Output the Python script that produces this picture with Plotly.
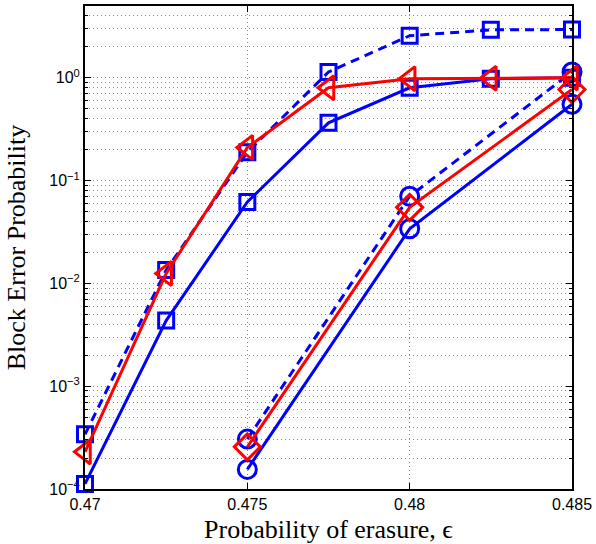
import plotly.graph_objects as go

eps_full = [0.47, 0.4725, 0.475, 0.4775, 0.48, 0.4825, 0.485]
eps_late = [0.475, 0.48, 0.485]

sq_dashed = [3.4e-4, 0.0135, 0.189, 1.14, 2.57, 2.93, 2.95]
sq_solid = [1.12e-4, 4.35e-3, 0.062, 0.365, 0.80, 0.98, 1.0]
tri_red = [2.3e-4, 0.0125, 0.21, 0.80, 0.98, 0.99, 1.0]

circ_dashed = [3.06e-4, 0.0705, 1.14]
circ_solid = [1.55e-4, 0.034, 0.553]
diam_red = [2.57e-4, 0.055, 0.77]

x_ticks = [0.47, 0.475, 0.48, 0.485]
x_ticktext = ["0.47", "0.475", "0.48", "0.485"]
y_ticks = [1e-4, 1e-3, 1e-2, 1e-1, 1]
y_ticktext = ["10<sup>−4</sup>", "10<sup>−3</sup>", "10<sup>−2</sup>", "10<sup>−1</sup>", "10<sup>0</sup>"]

BLUE = "#0000FF"
RED = "#FF0000"

minor_vals = [m * d for d in y_ticks for m in range(2, 10) if m * d <= 5]

fig = go.Figure()

def add(x, y, color, dash, symbol, size):
    fig.add_trace(go.Scatter(
        x=x, y=y, mode="lines+markers",
        line=dict(color=color, width=3, dash=dash),
        marker=dict(symbol=symbol, size=size, color=color,
                    line=dict(color=color, width=3)),
        showlegend=False, cliponaxis=False,
    ))

DASH = "9px,6px"
add(eps_full, sq_dashed, BLUE, DASH, "square-open", 15)
add(eps_full, sq_solid, BLUE, "solid", "square-open", 15)
add(eps_late, circ_dashed, BLUE, DASH, "circle-open", 18)
add(eps_late, circ_solid, BLUE, "solid", "circle-open", 18)
add(eps_full, tri_red, RED, "solid", "triangle-left-open", 21)
add(eps_late, diam_red, RED, "solid", "diamond-open", 20)

GRID = "#8a8a8a"
GDASH = "1px,3px"
TICKFONT = dict(family="Liberation Sans, Arial", size=16, color="black")
TITLEFONT = dict(family="Liberation Serif, serif", size=26, color="black")

fig.update_layout(
    width=596, height=544,
    margin=dict(l=85, r=20, t=4, b=42),
    plot_bgcolor="white", paper_bgcolor="white",
    font=TICKFONT,
)

fig.update_xaxes(
    range=[0.4699999, 0.4850001],
    tickvals=x_ticks, ticktext=x_ticktext, tickfont=TICKFONT,
    ticklabeloverflow="allow",
    ticks="inside", ticklen=6, tickwidth=1, tickcolor="black",
    showline=True, linecolor="black", linewidth=2, mirror="ticks",
    showgrid=True, gridcolor=GRID, griddash=GDASH, gridwidth=1,
    zeroline=False,
    title=dict(text="Probability of erasure, ϵ", font=TITLEFONT, standoff=9),
)

fig.update_yaxes(
    type="log", range=[-4, 0.699],
    tickvals=y_ticks, ticktext=y_ticktext, tickfont=TICKFONT,
    ticklabeloverflow="allow",
    ticks="inside", ticklen=6, tickwidth=1, tickcolor="black",
    showline=True, linecolor="black", linewidth=2, mirror="ticks",
    showgrid=True, gridcolor=GRID, griddash=GDASH, gridwidth=1,
    minor=dict(tickmode="array", tickvals=minor_vals,
               ticks="inside", ticklen=3, tickcolor="black",
               showgrid=True, gridcolor=GRID, griddash=GDASH, gridwidth=1),
    zeroline=False,
    title=dict(text="Block Error Probability", font=TITLEFONT, standoff=16),
)

fig.write_html("out.html")
